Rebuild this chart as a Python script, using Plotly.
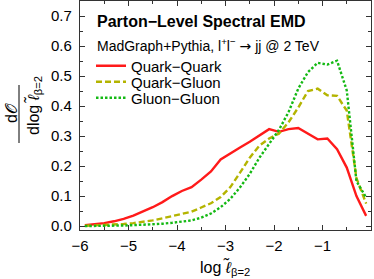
import plotly.graph_objects as go

x_centers = [-5.9, -5.7, -5.5, -5.3, -5.1, -4.9, -4.7, -4.5, -4.3, -4.1,
             -3.9, -3.7, -3.5, -3.3, -3.1, -2.9, -2.7, -2.5, -2.3, -2.1,
             -1.9, -1.7, -1.5, -1.3, -1.1, -0.9, -0.7, -0.5, -0.3, -0.1]

quark_quark = [0.003, 0.006, 0.010, 0.016, 0.024, 0.035, 0.048, 0.063, 0.080, 0.100,
               0.117, 0.130, 0.155, 0.182, 0.222, 0.243, 0.262, 0.281, 0.303, 0.323,
               0.314, 0.323, 0.327, 0.308, 0.289, 0.292, 0.256, 0.195, 0.100, 0.034]

quark_gluon = [0.001, 0.002, 0.003, 0.005, 0.007, 0.010, 0.014, 0.019, 0.026, 0.034,
               0.040, 0.048, 0.062, 0.076, 0.097, 0.130, 0.178, 0.228, 0.268, 0.292,
               0.308, 0.346, 0.395, 0.450, 0.458, 0.436, 0.434, 0.385, 0.160, 0.075]

gluon_gluon = [0.000, 0.000, 0.001, 0.001, 0.002, 0.003, 0.004, 0.006, 0.008, 0.011,
               0.014, 0.019, 0.028, 0.042, 0.063, 0.091, 0.129, 0.174, 0.228, 0.276,
               0.320, 0.380, 0.458, 0.513, 0.544, 0.538, 0.551, 0.452, 0.150, 0.095]

series_names = ["Quark\u2212Quark", "Quark\u2212Gluon", "Gluon\u2212Gluon"]
x_ticks = [-6, -5, -4, -3, -2, -1, 0]
y_ticks = [0.0, 0.1, 0.2, 0.3, 0.4, 0.5, 0.6, 0.7]

W, H = 374, 279
L, R, T, B = 80, 3, 1, 49
PW, PH = W - L - R, H - T - B

def px(xp):
    return (xp - L) / PW

def py(yp):
    return (H - B - yp) / PH

FONT = "Liberation Sans, Arial, sans-serif"

fig = go.Figure()
fig.add_trace(go.Scatter(x=x_centers, y=quark_quark, mode="lines", name=series_names[0],
                         line=dict(color="#ff1a1a", width=2.4), legend="legend"))
fig.add_trace(go.Scatter(x=x_centers, y=quark_gluon, mode="lines", name=series_names[1],
                         line=dict(color="#b4b400", width=2.4, dash="6px,3px"), legend="legend2"))
fig.add_trace(go.Scatter(x=x_centers, y=gluon_gluon, mode="lines", name=series_names[2],
                         line=dict(color="#14b914", width=2.4, dash="2.5px,2px"), legend="legend3"))

axis_common = dict(showline=True, mirror="allticks", linecolor="#333", linewidth=1.4,
                   ticks="inside", ticklen=5, tickwidth=1, tickcolor="#333",
                   showgrid=False, zeroline=False, automargin=False,
                   tickfont=dict(family=FONT, size=15, color="black"),
                   minor=dict(ticks="inside", ticklen=3, tickwidth=1, tickcolor="#333", nticks=5))

fig.update_xaxes(range=[-6.0, 0.0], tickvals=x_ticks, ticklabelstandoff=2, **axis_common)
fig.update_yaxes(range=[-0.013, 0.75], tickvals=y_ticks, tickformat=".1f", ticklabelstandoff=4,
                 **axis_common)

anns = [
    dict(x=px(95), y=py(22), text="<b>Parton\u2212Level Spectral EMD</b>", xanchor="left", yanchor="middle",
         font=dict(size=16)),
    dict(x=px(95), y=py(45),
         text="MadGraph+Pythia, l<sup>+</sup>l<sup>\u2212</sup> <span style=\"font-family:DejaVu Sans\">\u2192</span> jj @ 2 TeV",
         xanchor="left", yanchor="middle", font=dict(size=14)),
    dict(x=px(225), y=py(267), text="log <i>\u2113\u0303</i><sub>\u03b2=2</sub>", xanchor="center",
         yanchor="middle", font=dict(size=16)),
    dict(x=px(11), y=py(113), text="d\U0001D4AA", textangle=-90, xanchor="center", yanchor="middle",
         font=dict(size=16)),
    dict(x=px(34), y=py(106), text="dlog <i>\u2113\u0303</i><sub>\u03b2=2</sub>", textangle=-90,
         xanchor="center", yanchor="middle", font=dict(size=16)),
]
for a in anns:
    a.update(xref="paper", yref="paper", showarrow=False)
    a["font"].update(family=FONT, color="black")

leg_common = dict(xanchor="left", yanchor="middle", bgcolor="rgba(0,0,0,0)",
                  font=dict(family=FONT, size=15, color="black"), itemwidth=30)

fig.update_layout(
    width=W, height=H, margin=dict(l=L, r=R, t=T, b=B),
    plot_bgcolor="white", paper_bgcolor="white",
    annotations=anns,
    shapes=[dict(type="line", xref="paper", yref="paper", x0=px(19), x1=px(19), y0=py(85), y1=py(143),
                 line=dict(color="black", width=1))],
    showlegend=True,
    legend=dict(x=px(91), y=py(66), **leg_common),
    legend2=dict(x=px(91), y=py(82), **leg_common),
    legend3=dict(x=px(91), y=py(98), **leg_common),
)

fig.write_html("out.html", config={"displayModeBar": False},
               post_script="document.body.style.margin='0';document.body.style.padding='0';")
